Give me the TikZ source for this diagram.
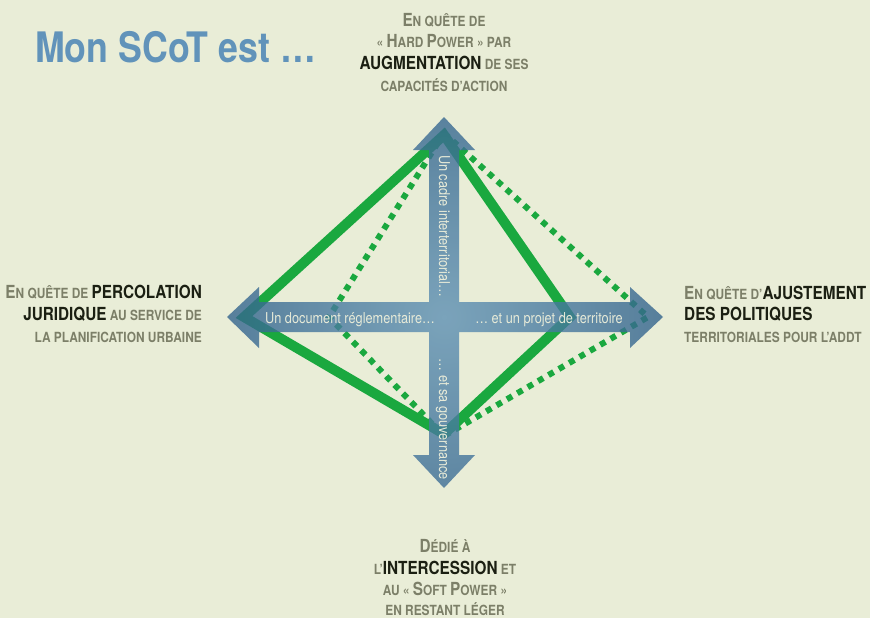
\documentclass[tikz,border=0pt]{standalone}
\usepackage{fontspec}
\setmainfont{TeX Gyre Heros}[FakeStretch=0.85]
\definecolor{bg}{HTML}{E9EDD7}
\definecolor{titleblue}{HTML}{6193BA}
\definecolor{scgray}{HTML}{7C7F68}
\definecolor{darktxt}{HTML}{1B1F12}
\definecolor{grn}{HTML}{1AA83F}
\definecolor{arrdark}{HTML}{164673}
\definecolor{arrlight}{HTML}{5F91B4}
\definecolor{lbltxt}{HTML}{E6EAD8}
\newcommand\BC[1]{{\fontsize{18pt}{18pt}\selectfont #1}}
\newcommand\KW[1]{{\fontsize{18pt}{18pt}\selectfont\color{darktxt}#1}}
\tikzset{
  lbl/.style={inner sep=0pt, font=\bfseries\fontsize{14pt}{14pt}\selectfont, text=scgray},
  arrlbl/.style={inner sep=0pt, font=\fontsize{15pt}{15pt}\selectfont, text=lbltxt},
  solidq/.style={draw=grn, line width=10pt, line join=miter},
  dotq/.style={draw=grn, line width=6pt, dash pattern=on 6pt off 6pt},
}
\begin{document}
\begin{tikzpicture}[x=1pt,y=-1pt]
\useasboundingbox (0,0) rectangle (870,618);
\fill[bg] (0,0) rectangle (870,618);

% title
\node[anchor=base west, inner sep=0pt, font=\bfseries\fontsize{42pt}{42pt}\selectfont, text=titleblue] (title) at (35,63) {Mon SCoT est …};

% green quadrilaterals
\draw[solidq] (444,135) -- (570,317) -- (444,434) -- (244,317) -- cycle;
\draw[dotq] (444,133) -- (648,317) -- (444,436) -- (329,317) -- cycle;

% cross arrows
\begin{scope}
\clip (444,117) -- (475,150) -- (459,150) -- (459,302) -- (630,302) -- (630,287)
  -- (663,317) -- (630,348) -- (630,332) -- (459,332) -- (459,455) -- (475,455)
  -- (444,488) -- (413,455) -- (429,455) -- (429,332) -- (259,332) -- (259,348)
  -- (227,317) -- (259,287) -- (259,302) -- (429,302) -- (429,150) -- (413,150) -- cycle;
\shade[opacity=0.8, inner color=arrlight, outer color=arrdark] (444,317) circle[radius=360pt];
\end{scope}

% arrow labels
\node[arrlbl, anchor=base west] (aleft) at (265,323) {Un document réglementaire…};
\node[arrlbl, anchor=base east] (aright) at (623,323) {… et un projet de territoire};
\node[arrlbl, anchor=base west, rotate=-90] (atop) at (439,155) {Un cadre interterritorial…};
\node[arrlbl, anchor=base east, rotate=-90] (abot) at (439,480) {… et sa gouvernance};

% top label
\node[lbl, anchor=base] (t1) at (444,27) {\BC{E}N QUÊTE DE};
\node[lbl, anchor=base] (t2) at (444,48) {« \BC{H}ARD \BC{P}OWER » PAR};
\node[lbl, anchor=base] (t3) at (444,69.5) {\KW{AUGMENTATION} DE SES};
\node[lbl, anchor=base] (t4) at (444,92) {CAPACITÉS D’ACTION};

% left label
\node[lbl, anchor=base east] (l1) at (202,298) {\BC{E}N QUÊTE DE \KW{PERCOLATION}};
\node[lbl, anchor=base east] (l2) at (202,320) {\KW{JURIDIQUE} AU SERVICE DE};
\node[lbl, anchor=base east] (l3) at (202,342) {LA PLANIFICATION URBAINE};

% right label
\node[lbl, anchor=base west] (r1) at (684,299) {\BC{E}N QUÊTE D’\KW{AJUSTEMENT}};
\node[lbl, anchor=base west] (r2) at (684,320) {\KW{DES POLITIQUES}};
\node[lbl, anchor=base west] (r3) at (684,342) {TERRITORIALES POUR L’ADDT};

% bottom label
\node[lbl, anchor=base] (b1) at (445,552) {\BC{D}ÉDIÉ À};
\node[lbl, anchor=base] (b2) at (445,574) {L’\KW{INTERCESSION} ET};
\node[lbl, anchor=base] (b3) at (445,595) {AU « \BC{S}OFT \BC{P}OWER »};
\node[lbl, anchor=base] (b4) at (445,615) {EN RESTANT LÉGER};
\end{tikzpicture}
\end{document}
